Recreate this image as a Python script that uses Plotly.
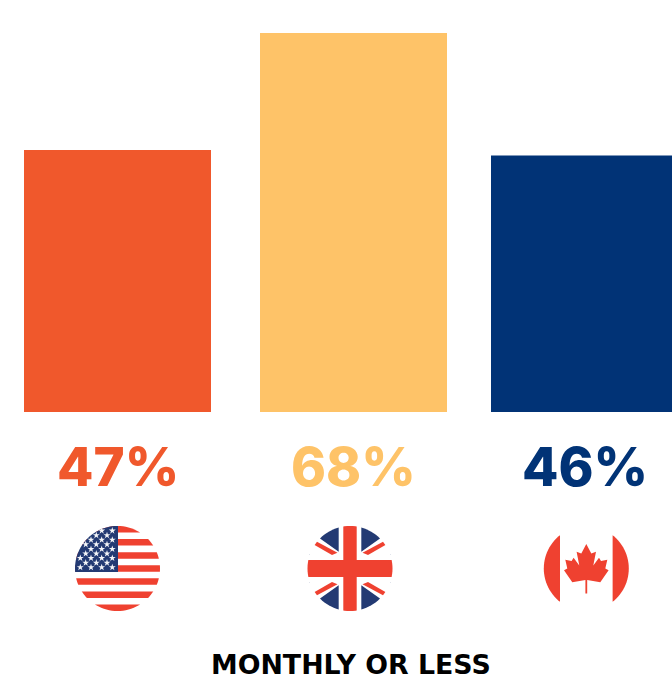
import math
import plotly.graph_objects as go

# Survey shares per country
countries = ["United States", "United Kingdom", "Canada"]
shares = [47, 68, 46]
bar_colors = ["#F0582C", "#FEC368", "#013376"]
caption = "MONTHLY OR LESS"

FLAG_RED = "#EF4130"
FLAG_BLUE = "#233A73"
W, H = 672, 692
BASE_Y = 412.0
PX_PER_PCT = 379 / 68
CAT_PX = 233.5
LABEL_FONT = "Inter"
CAPTION_FONT = "DejaVu Sans"


def star_points():
    """Star field of the US canton, as offsets from the flag centre."""
    pts = []
    for row in range(9):
        columns = [-37.2, -26.5, -15.8, -5.2] if row % 2 == 0 else [-42.5, -31.8, -21.2, -10.5]
        for dx in columns:
            dy = -37.8 + row * 4.58
            if math.hypot(dx, dy) < 41:
                pts.append((dx, dy))
    return pts


def clip_to_circle(poly, r, n=96):
    """Sutherland-Hodgman clip of a polygon against an n-gon inscribed in the flag disc."""
    out = list(poly)
    for i in range(n):
        a0, a1 = 2 * math.pi * i / n, 2 * math.pi * (i + 1) / n
        ax, ay = r * math.cos(a0), r * math.sin(a0)
        bx, by = r * math.cos(a1), r * math.sin(a1)
        side = lambda p: (bx - ax) * (p[1] - ay) - (by - ay) * (p[0] - ax)
        clipped = []
        for j, p in enumerate(out):
            q = out[(j + 1) % len(out)]
            sp, sq = side(p), side(q)
            if sp >= 0:
                clipped.append(p)
            if sp * sq < 0:
                t = sp / (sp - sq)
                clipped.append((p[0] + t * (q[0] - p[0]), p[1] + t * (q[1] - p[1])))
        out = clipped
        if not out:
            break
    return out


def flag_shape(cx, cy, poly, color, r=42.5, clip=True):
    pts = clip_to_circle(poly, r) if clip else poly
    if len(pts) < 3:
        return None
    path = "M" + "L".join(f"{cx + x:.2f},{cy + y:.2f}" for x, y in pts) + "Z"
    return dict(type="path", path=path, xref="x2", yref="y2", layer="below",
                fillcolor=color, line=dict(width=0))


def rect(x0, y0, x1, y1):
    return [(x0, y0), (x1, y0), (x1, y1), (x0, y1)]


def mirror(poly, sx, sy):
    return [(sx * x, sy * y) for x, y in poly]


shapes = []


def add(cx, cy, poly, color, clip=True):
    s = flag_shape(cx, cy, poly, color, clip=clip)
    if s:
        shapes.append(s)


# United States: stripes and canton
US = (117.5, 568.5)
for k in range(0, 13, 2):
    y0 = -42.5 + k * 85 / 13
    add(*US, rect(-45, y0, 45, y0 + 85 / 13), FLAG_RED)
add(*US, rect(-45, -45, 0.5, 3.6), FLAG_BLUE)

# United Kingdom: blue fields, red diagonals, red cross
UK = (350.0, 568.5)
blue_field = [(11.3, -45), (11.3, -16.7), (30, -30), (30, -45)]
outer_blue = [(40, -15.5), (46, -15.5), (46, -13.5), (40, -13.5)]
red_diag = [(12.5, -15.7), (33.5, -27), (35.5, -23.5), (18, -13.5)]
for sx in (1, -1):
    for sy in (1, -1):
        add(*UK, mirror(blue_field, sx, sy), FLAG_BLUE)
        add(*UK, mirror(outer_blue, sx, sy), FLAG_BLUE)
        add(*UK, mirror(red_diag, sx, sy), FLAG_RED)
add(*UK, rect(-6.7, -45, 6.7, 45), FLAG_RED)
add(*UK, rect(-45, -8.4, 45, 8.4), FLAG_RED)

# Canada: side bands and maple leaf
CA = (586.3, 568.5)
add(*CA, rect(-45, -45, -26.3, 45), FLAG_RED)
add(*CA, rect(26.3, -45, 45, 45), FLAG_RED)
leaf_half = [(0, -24.5), (5, -15), (9.7, -16.7), (7, -3), (12.7, -10.7), (14.7, -7.5), (21, -8.7),
             (19, 0), (22.3, 1.7), (14, 13.7), (0.9, 11.5), (0.9, 25), (0, 25)]
leaf = leaf_half + [(-x, y) for x, y in reversed(leaf_half)]
add(*CA, leaf, FLAG_RED, clip=False)

# Bars sit on an evenly spaced category axis; the per-bar offsets nudge them into place
bar_width = 187 / CAT_PX
nudges = [-1 / CAT_PX, 1.5 / CAT_PX, -1 / CAT_PX]
offsets = [-bar_width / 2 + n for n in nudges]
x_start = -118.5 / CAT_PX

fig = go.Figure()
fig.add_trace(go.Bar(
    x=countries, y=shares, width=[bar_width] * 3, offset=offsets,
    marker=dict(color=bar_colors, line=dict(width=0)), hoverinfo="skip", showlegend=False,
))

# White stars of the US canton
stars = star_points()
fig.add_trace(go.Scatter(
    x=[US[0] + p[0] for p in stars], y=[US[1] + p[1] for p in stars],
    xaxis="x2", yaxis="y2", mode="markers",
    marker=dict(symbol="star", size=5.2, color="#F4F5F8", line=dict(width=0)),
    hoverinfo="skip", showlegend=False,
))

annotations = []
label_centres = [117.5, 353.5, 584.5]
for centre, share, color in zip(label_centres, shares, bar_colors):
    annotations.append(dict(
        x=centre, y=466.5, xref="x2", yref="y2", text=f"{share}%", showarrow=False,
        font=dict(family=LABEL_FONT, size=53, color=color, weight=800),
        xanchor="center", yanchor="middle",
    ))
annotations.append(dict(
    x=351, y=664.5, xref="x2", yref="y2", text=caption, showarrow=False,
    font=dict(family=CAPTION_FONT, size=26.8, color="#000000", weight=700),
    xanchor="center", yanchor="middle",
))

fig.update_layout(
    width=W, height=H, margin=dict(l=0, r=0, t=0, b=0),
    paper_bgcolor="#FFFFFF", plot_bgcolor="#FFFFFF", showlegend=False,
    xaxis=dict(type="category", range=[x_start, x_start + W / CAT_PX], visible=False, fixedrange=True),
    yaxis=dict(range=[-(H - BASE_Y) / PX_PER_PCT, BASE_Y / PX_PER_PCT], visible=False, fixedrange=True),
    xaxis2=dict(range=[0, W], overlaying="x", visible=False, fixedrange=True),
    yaxis2=dict(range=[H, 0], overlaying="y", visible=False, fixedrange=True),
    shapes=shapes, annotations=annotations,
)

fig.write_html("out.html", config=dict(displayModeBar=False))
